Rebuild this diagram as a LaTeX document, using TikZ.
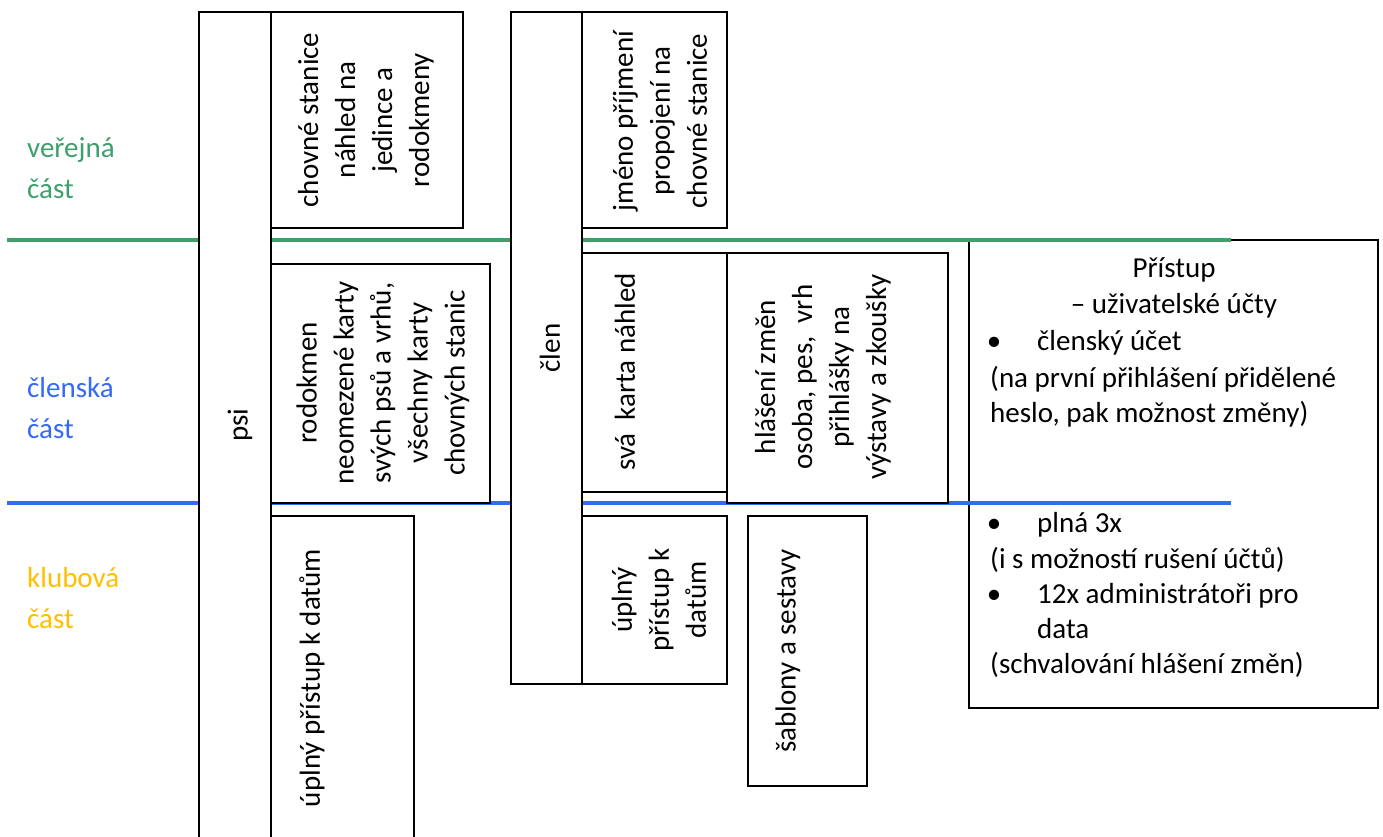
\documentclass[tikz,border=0pt]{standalone}
\usepackage{fontspec}
\setmainfont{Carlito}
\definecolor{zgreen}{RGB}{62,160,108}
\definecolor{zblue}{RGB}{52,106,245}
\definecolor{zyellow}{RGB}{255,192,0}
\begin{document}
\begin{tikzpicture}[x=1pt,y=-1pt,
  box/.style={draw=black,line width=2.4pt,fill=white,inner sep=0pt},
  vtext/.style={rotate=90,align=center,inner sep=0pt,font=\fontsize{29}{37}\selectfont},
  htext/.style={anchor=base west,inner sep=0pt,font=\fontsize{29}{35}\selectfont},
  sep/.style={line width=3.5pt}]
\useasboundingbox[fill=white] (0,0) rectangle (1383,836);
% right box (unfilled, lines pass through)
\draw[line width=2.4pt] (969,240) rectangle (1378,708);
\coordinate (g0) at (7,240); \coordinate (g1) at (1231,240);
\coordinate (b0) at (7,503); \coordinate (b1) at (1231,503);
\draw[sep,zgreen] (g0) -- (g1);
\draw[sep,zblue] (b0) -- (b1);
% left labels
\node[htext,text=zgreen] (l1a) at (27,157) {veřejná};
\node[htext,text=zgreen] (l1b) at (27,198) {část};
\node[htext,text=zblue] (l2a) at (27,397) {členská};
\node[htext,text=zblue] (l2b) at (27,438) {část};
\node[htext,text=zyellow] (l3a) at (27,587) {klubová};
\node[htext,text=zyellow] (l3b) at (27,628) {část};
% boxes
\draw[box] (199,12) rectangle (271,860);
\draw[box] (271,12) rectangle (463,228);
\draw[box] (271,264) rectangle (490,503);
\draw[box] (271,516) rectangle (414,860);
\draw[box] (511,12) rectangle (582,684);
\draw[box] (582,12) rectangle (727,228);
\draw[box] (582,253) rectangle (727,492);
\draw[box] (727,253) rectangle (948,503);
\draw[box] (582,516) rectangle (727,684);
\draw[box] (748,516) rectangle (867,786);
% rotated texts
\node[vtext] (psi) at (240,425) {psi};
\node[vtext] (chs) at (366,120) {chovné stanice\\náhled na\\jedince a\\rodokmeny};
\node[vtext] (rod) at (383,383) {rodokmen\\neomezené karty\\svých psů a vrhů,\\všechny karty\\chovných stanic};
\node[vtext] (up1) at (312,678) {úplný přístup k datům};
\node[vtext] (clen) at (550,348) {člen};
\node[vtext] (jm) at (660,121) {jméno příjmení\\propojení na\\chovné stanice};
\node[vtext] (sva) at (625,372) {svá\ \ karta náhled};
\node[vtext] (hl) at (823,377) {hlášení změn\\osoba, pes,\ \ vrh\\přihlášky na\\výstavy a zkoušky};
\node[vtext] (up2) at (659,600) {úplný\\přístup k\\datům};
\node[vtext] (sab) at (788,651) {šablony a sestavy};
% right box text
\node[htext,anchor=base] (r1) at (1174,277) {Přístup};
\node[htext,anchor=base] (r2) at (1174,313) {– uživatelské účty};
\node[htext,anchor=base] (bu1) at (994,350) {•};
\node[htext] (r3) at (1037,350) {členský účet};
\node[htext] (r4) at (990,387) {(na první přihlášení přidělené};
\node[htext] (r5) at (990,422) {heslo, pak možnost změny)};
\node[htext,anchor=base] (bu2) at (994,532) {•};
\node[htext] (r6) at (1037,532) {plná 3x};
\node[htext] (r7) at (990,568) {(i s možností rušení účtů)};
\node[htext,anchor=base] (bu3) at (994,603) {•};
\node[htext] (r8) at (1037,603) {12x administrátoři pro};
\node[htext] (r9) at (1037,638) {data};
\node[htext] (r10) at (990,673) {(schvalování hlášení změn)};
\end{tikzpicture}
\end{document}
